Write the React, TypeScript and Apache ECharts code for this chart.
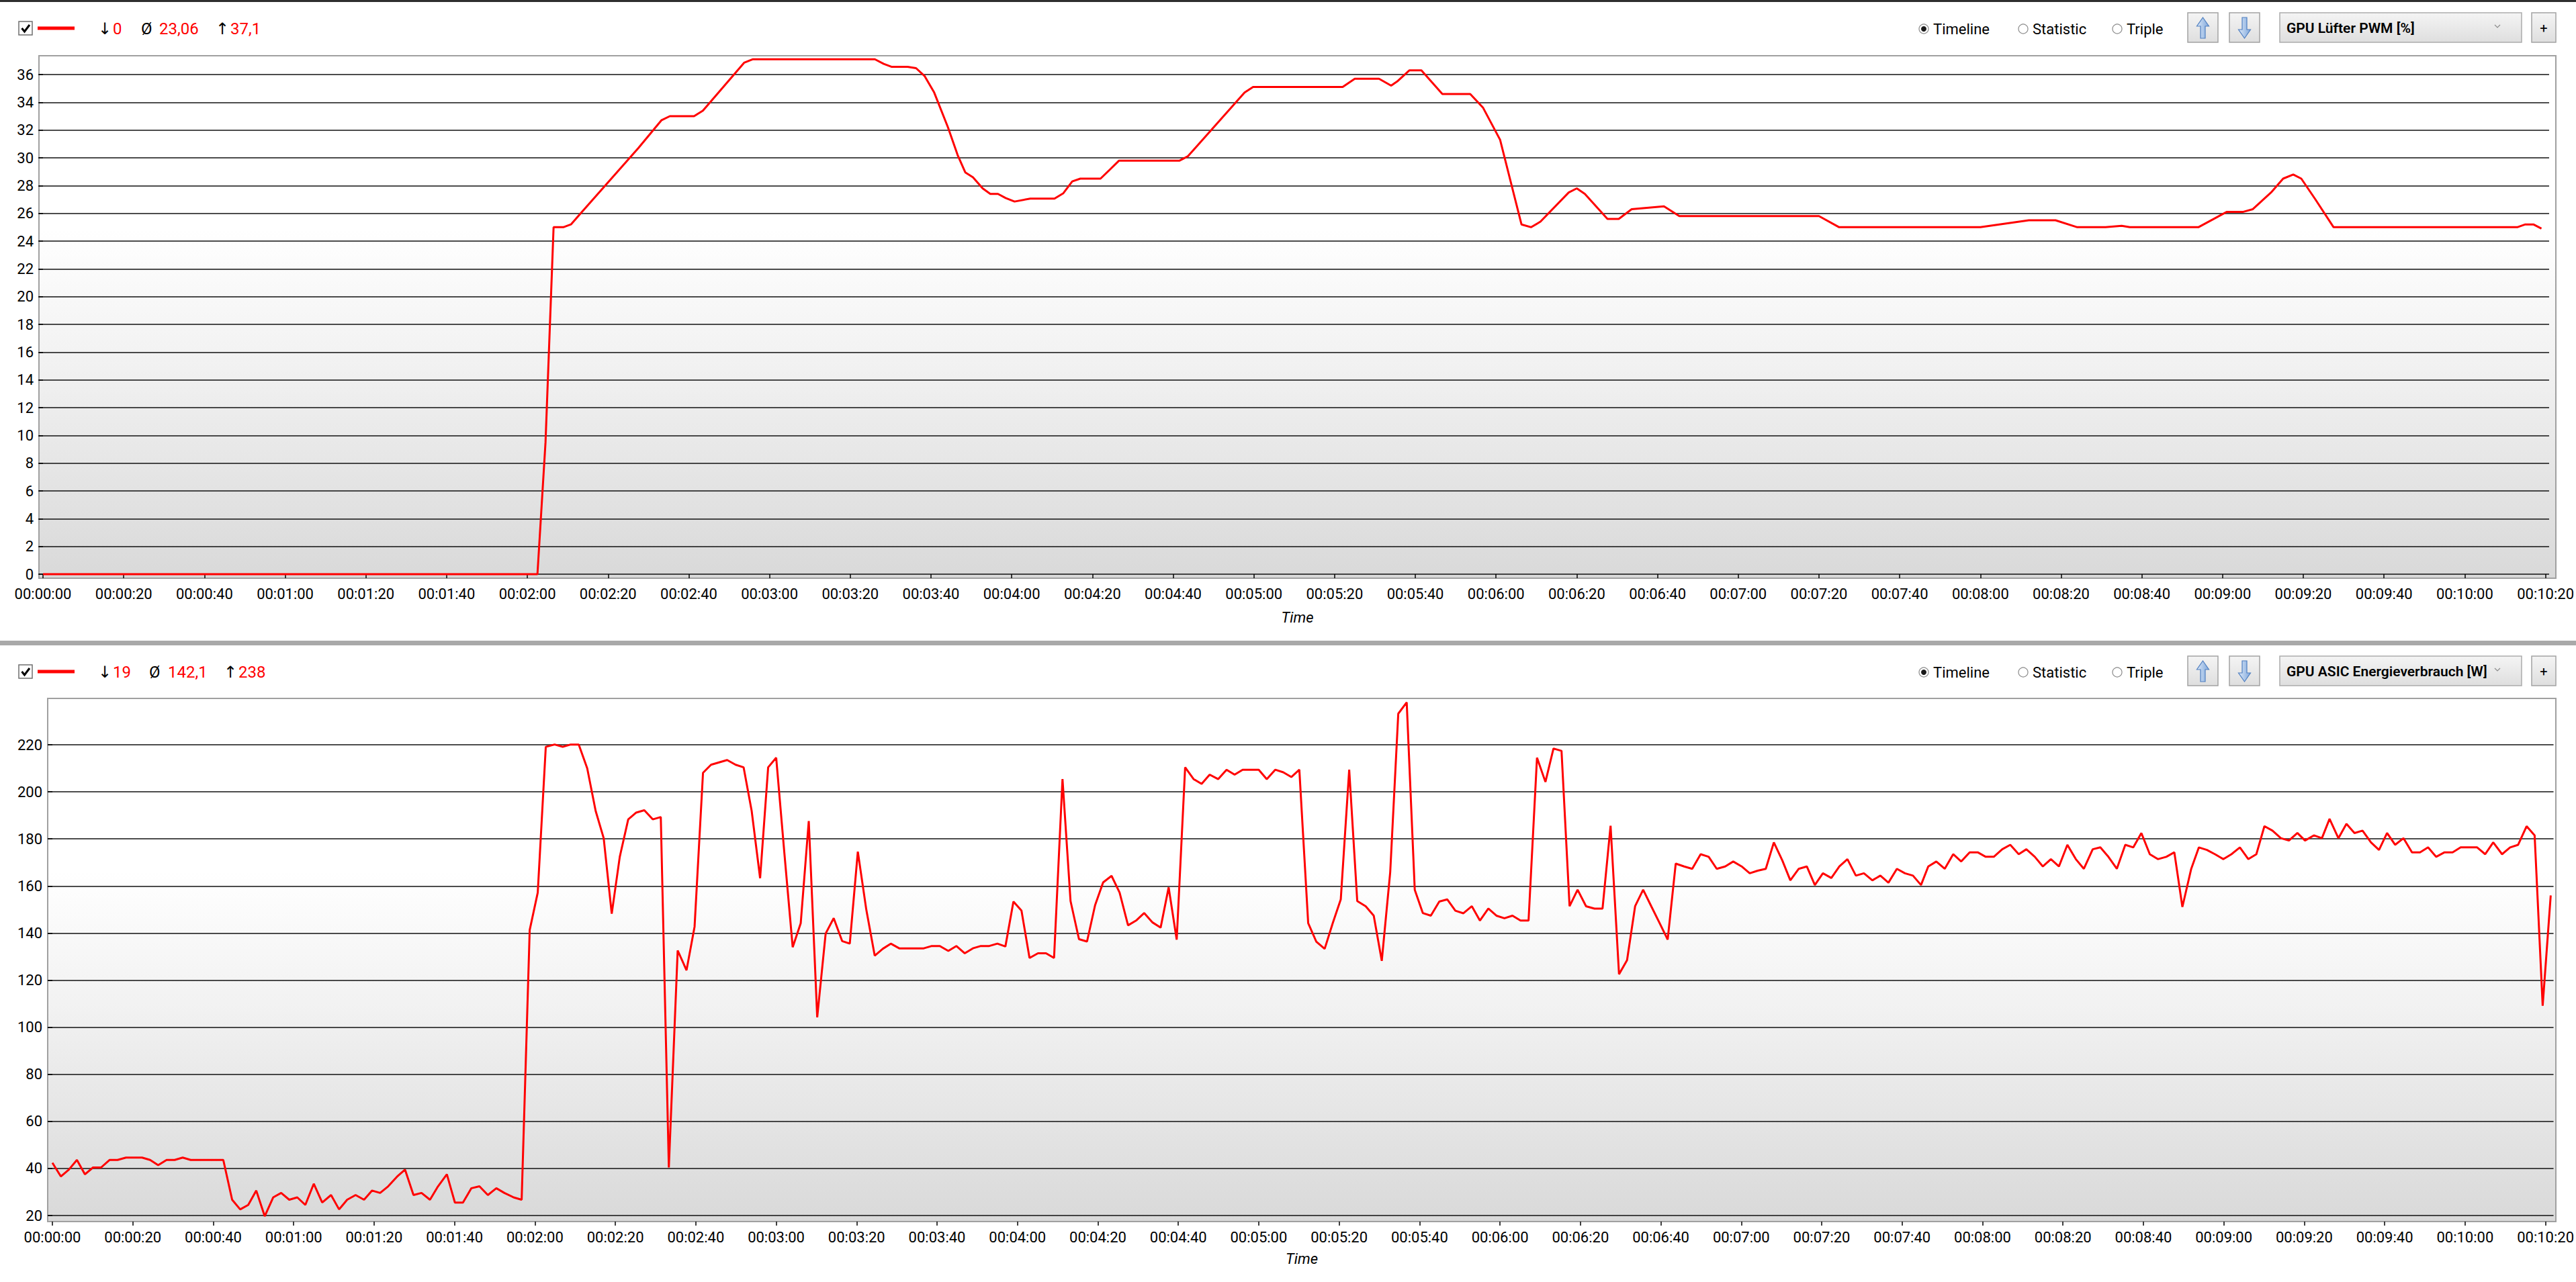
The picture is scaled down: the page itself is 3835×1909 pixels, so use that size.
import React, { useEffect, useRef } from 'react';
import * as echarts from 'echarts';

// ---------- data ----------
const TIME_TICKS = [0, 20, 40, 60, 80, 100, 120, 140, 160, 180, 200, 220, 240, 260, 280, 300, 320, 340, 360, 380, 400, 420, 440, 460, 480, 500, 520, 540, 560, 580, 600, 620];
const TIME_LABELS = ['00:00:00', '00:00:20', '00:00:40', '00:01:00', '00:01:20', '00:01:40', '00:02:00', '00:02:20', '00:02:40', '00:03:00', '00:03:20', '00:03:40', '00:04:00', '00:04:20', '00:04:40', '00:05:00', '00:05:20', '00:05:40', '00:06:00', '00:06:20', '00:06:40', '00:07:00', '00:07:20', '00:07:40', '00:08:00', '00:08:20', '00:08:40', '00:09:00', '00:09:20', '00:09:40', '00:10:00', '00:10:20'];

// GPU Lüfter PWM [%]  (time in s, value)
const fanPwm: [number, number][] = [
  [0, 0], [122.5, 0], [124.5, 9.5], [126.5, 25], [128.9, 25], [130.8, 25.2], [133.2, 26], [147.5, 30.7], [153.2, 32.7],
  [155.3, 33], [161.3, 33], [163.5, 33.4], [173.7, 36.85], [175.8, 37.1], [206.1, 37.1], [208.3, 36.77], [210.2, 36.56],
  [214.2, 36.56], [216.3, 36.46], [218.4, 35.9], [220.8, 34.7], [224.2, 32.2], [226.6, 30.2], [228.5, 28.95], [230.4, 28.6],
  [232.8, 27.8], [234.7, 27.4], [236.6, 27.4], [238.5, 27.1], [240.7, 26.85], [244.6, 27.06], [250.6, 27.06], [252.8, 27.45],
  [255, 28.3], [257, 28.5], [262, 28.5], [264.5, 29.2], [266.6, 29.8], [281.6, 29.8], [283.6, 30.1], [297.7, 34.7],
  [299.8, 35.1], [322, 35.1], [325, 35.7], [331, 35.7], [334, 35.2], [335.5, 35.5], [338.5, 36.3], [341.5, 36.3],
  [346.7, 34.6], [353.6, 34.6], [356.8, 33.6], [361, 31.3], [366.3, 25.2], [368.7, 25.0], [371, 25.4], [378, 27.5],
  [380, 27.8], [382, 27.4], [387.6, 25.6], [390.4, 25.6], [393.6, 26.3], [401.6, 26.5], [405.4, 25.8], [440, 25.8],
  [445, 25.0], [480, 25.0], [492, 25.5], [498.6, 25.5], [504, 25.0], [511, 25.0], [515, 25.1], [517, 25.0], [534, 25.0],
  [541, 26.1], [545, 26.1], [547.5, 26.3], [552, 27.5], [555, 28.5], [557.5, 28.8], [559.5, 28.5], [563, 27], [567.5, 25.0],
  [613, 25.0], [615, 25.2], [617, 25.2], [619, 24.9],
];

// GPU ASIC Energieverbrauch [W]  (time in s, value)
const asicPower: [number, number][] = [
  [0, 42.4], [2.1, 36.6], [4.1, 39.5], [6.1, 43.6], [8.1, 37.5], [10.1, 40.4], [12.1, 40.4], [14.2, 43.6], [16.2, 43.6],
  [18.3, 44.6], [20.3, 44.6], [22.3, 44.6], [24.3, 43.6], [26.3, 41.4], [28.4, 43.6], [30.4, 43.6], [32.4, 44.6],
  [34.4, 43.6], [36.5, 43.6], [38.5, 43.6], [40.5, 43.6], [42.5, 43.6], [44.7, 26.7], [46.7, 22.6], [48.7, 24.5],
  [50.7, 30.6], [52.8, 19.7], [54.9, 27.7], [56.9, 29.6], [58.9, 26.7], [60.9, 27.7], [62.9, 24.5], [65, 33.5],
  [67.1, 25.5], [69.3, 28.7], [71.3, 22.6], [73.3, 26.7], [75.4, 28.7], [77.5, 26.7], [79.5, 30.6], [81.5, 29.6],
  [83.5, 32.4], [85.7, 36.5], [87.7, 39.5], [89.8, 28.7], [91.8, 29.6], [93.9, 26.7], [95.9, 32.4], [98.1, 37.5],
  [100.1, 25.5], [102.1, 25.5], [104.2, 31.6], [106.2, 32.4], [108.3, 28.7], [110.4, 31.6], [112.4, 29.6], [114.7, 27.7],
  [116.7, 26.7], [118.7, 141.3], [120.7, 157.2], [122.7, 219.1], [124.9, 220.1], [126.9, 219.1], [128.9, 220.1],
  [130.9, 220.1], [133, 210], [135.1, 191.9], [137.1, 180.3], [139.1, 148.2], [141.1, 172.4], [143.2, 188.3],
  [145.2, 191.2], [147.2, 192.2], [149.3, 188.3], [151.3, 189.3], [153.3, 40.4], [155.5, 132.6], [157.7, 124.2],
  [159.7, 142.7], [161.8, 208.1], [163.8, 211.5], [165.8, 212.5], [167.8, 213.5], [169.9, 211.5], [171.9, 210.4],
  [173.9, 191.9], [176, 163.3], [178, 210.4], [180, 214.5], [182, 174.6], [184.1, 134.0], [186.1, 144.2], [188.1, 187.6],
  [190.2, 104.2], [192.3, 139.8], [194.3, 146.3], [196.4, 136.6], [198.3, 135.5], [200.3, 174.6], [202.4, 150.0],
  [204.5, 130.4], [206.5, 133.3], [208.5, 135.5], [210.6, 133.5], [212.6, 133.5], [214.6, 133.5], [216.7, 133.5],
  [218.7, 134.5], [220.7, 134.5], [222.8, 132.4], [224.8, 134.5], [226.9, 131.4], [228.9, 133.5], [230.9, 134.5],
  [233, 134.5], [235, 135.5], [237, 134.3], [239, 153.4], [241, 149.5], [243, 129.4], [245.1, 131.4], [247.1, 131.4],
  [249.1, 129.4], [251.2, 205.4], [253.2, 153.6], [255.3, 137.4], [257.3, 136.4], [259.3, 151.8], [261.3, 161.5],
  [263.4, 164.3], [265.4, 157.2], [267.5, 143.3], [269.5, 145.3], [271.5, 148.5], [273.6, 144.5], [275.6, 142.3],
  [277.6, 159.4], [279.6, 137.2], [281.7, 210.4], [283.8, 205.4], [285.8, 203.4], [287.8, 207.3], [289.9, 205.4],
  [292, 209.4], [294, 207.3], [296, 209.4], [298, 209.4], [300, 209.4], [302, 205.4], [304.1, 209.4], [306.1, 208.3],
  [308.1, 206.3], [310.1, 209.4], [312.3, 144.2], [314.3, 136.4], [316.4, 133.3], [318.4, 144.2], [320.4, 154.3],
  [322.5, 209.4], [324.5, 153.6], [326.6, 151.4], [328.6, 147.4], [330.6, 128.2], [332.7, 165.9], [334.7, 233.2],
  [336.8, 238.0], [338.8, 158.4], [340.8, 148.5], [342.8, 147.4], [344.9, 153.4], [346.9, 154.3], [348.9, 149.5],
  [350.9, 148.4], [353, 151.4], [355, 145.3], [357.1, 150.4], [359.1, 147.4], [361.1, 146.3], [363.1, 147.4],
  [365.1, 145.3], [367.1, 145.3], [369.2, 214.5], [371.3, 204.2], [373.3, 218.4], [375.3, 217.4], [377.3, 151.4],
  [379.3, 158.4], [381.4, 151.4], [383.5, 150.4], [385.5, 150.4], [387.5, 185.6], [389.6, 122.5], [391.6, 128.5],
  [393.6, 151.4], [395.6, 158.4], [397.7, 151.1], [399.7, 144.2], [401.7, 137.2], [403.7, 169.5], [405.8, 168.3],
  [407.8, 167.3], [409.9, 173.5], [411.9, 172.4], [413.9, 167.3], [416, 168.3], [418, 170.4], [420.1, 168.3],
  [422.1, 165.4], [424.1, 166.5], [426.1, 167.3], [428.1, 178.5], [430.2, 170.9], [432.2, 162.4], [434.3, 167.3],
  [436.3, 168.3], [438.3, 160.4], [440.3, 165.4], [442.4, 163.4], [444.4, 168.3], [446.4, 171.4], [448.5, 164.4],
  [450.5, 165.4], [452.6, 162.4], [454.6, 164.4], [456.6, 161.4], [458.7, 167.3], [460.7, 165.4], [462.7, 164.4],
  [464.7, 160.4], [466.5, 168.3], [468.5, 170.4], [470.6, 167.3], [472.7, 173.5], [474.7, 170.4], [476.8, 174.3],
  [478.8, 174.3], [480.8, 172.4], [482.8, 172.4], [484.9, 175.6], [486.9, 177.5], [489, 173.5], [490.9, 175.6],
  [493, 172.4], [495, 168.3], [497, 171.4], [499, 168.3], [501.1, 177.5], [503.2, 171.4], [505.2, 167.3], [507.4, 175.6],
  [509.3, 176.4], [511.3, 172.4], [513.4, 167.3], [515.5, 177.5], [517.5, 176.4], [519.5, 182.5], [521.6, 173.5],
  [523.6, 171.4], [525.7, 172.4], [527.7, 174.3], [529.7, 151.1], [531.9, 167.3], [533.8, 176.4], [535.8, 175.3],
  [537.8, 173.5], [539.9, 171.4], [541.9, 173.5], [544, 176.4], [546.1, 171.4], [548.1, 173.5], [550.1, 185.4],
  [552.1, 183.5], [554.2, 180.3], [556.2, 179.3], [558.3, 182.5], [560.2, 179.3], [562.4, 181.5], [564.4, 180.3],
  [566.3, 188.5], [568.5, 180.3], [570.5, 186.4], [572.5, 182.5], [574.5, 183.5], [576.6, 178.5], [578.6, 175.3],
  [580.6, 182.5], [582.6, 177.5], [584.7, 180.3], [586.8, 174.3], [588.8, 174.3], [590.8, 176.4], [592.8, 172.4],
  [594.9, 174.3], [596.9, 174.3], [598.9, 176.4], [600.9, 176.4], [603, 176.4], [605, 173.5], [607, 178.5], [609.2, 173.5],
  [611.2, 176.4], [613.2, 177.5], [615.3, 185.4], [617.3, 181.5], [619.3, 109.1], [621.3, 156.0],
];

const fanStats = { min: '0', avg: '23,06', max: '37,1' };
const powerStats = { min: '19', avg: '142,1', max: '238' };
const fanTitle = 'GPU Lüfter PWM [%]';
const powerTitle = 'GPU ASIC Energieverbrauch [W]';
const modes = ['Timeline', 'Statistic', 'Triple'];

// ---------- layout ----------
const W = 3835;
const H = 1909;
const FONT = "'Segoe UI', Roboto, 'Noto Sans', 'DejaVu Sans', sans-serif";

type Panel = {
  hc: number;
  box: { x1: number; y1: number; x2: number; y2: number };
  gridTop: number; gridBottomY: number;
  xMin: number; xMax: number;
  yMin: number; yMax: number; yInt: number;
  stats: { min: string; avg: string; max: string };
  statX: number[];
  title: string;
  timeY: number;
};

const panels: Panel[] = [
  {
    hc: 41, box: { x1: 58, y1: 83, x2: 3805, y2: 861 }, gridTop: 111, gridBottomY: 855,
    xMin: -1, xMax: 620.9, yMin: 0, yMax: 36, yInt: 2, stats: fanStats,
    statX: [146, 168, 210, 237, 321, 343], title: fanTitle, timeY: 919,
  },
  {
    hc: 999, box: { x1: 71, y1: 1040, x2: 3805, y2: 1819 }, gridTop: 1109, gridBottomY: 1810,
    xMin: -1.17, xMax: 622.0, yMin: 20, yMax: 220, yInt: 20, stats: powerStats,
    statX: [146, 168, 222, 250, 333, 355], title: powerTitle, timeY: 1874,
  },
];

function btnFill() {
  return {
    type: 'linear', x: 0, y: 0, x2: 0, y2: 1,
    colorStops: [{ offset: 0, color: '#f4f4f4' }, { offset: 1, color: '#dedede' }],
  };
}

function arrowFill() {
  return {
    type: 'linear', x: 0, y: 0, x2: 1, y2: 0,
    colorStops: [{ offset: 0, color: '#dbe8f8' }, { offset: 1, color: '#7fa7db' }],
  };
}

function headerGraphics(p: Panel): any[] {
  const hc = p.hc;
  const els: any[] = [];
  els.push({ type: 'rect', shape: { x: 28, y: hc - 9, width: 20, height: 20 }, style: { fill: '#fff', stroke: '#6f6f6f', lineWidth: 1.5 } });
  els.push({ type: 'polyline', shape: { points: [[32.5, hc + 1], [36.5, hc + 6], [44, hc - 4]] }, style: { stroke: '#000', lineWidth: 3, fill: null } });
  els.push({ type: 'line', shape: { x1: 56, y1: hc + 1, x2: 111, y2: hc + 1 }, style: { stroke: '#ff0000', lineWidth: 5 } });
  const t = (x: number, text: string, color: string) => ({
    type: 'text', x, y: hc + 2,
    style: { text, fill: color, fontSize: 24, fontFamily: FONT, verticalAlign: 'middle', align: 'left' },
  });
  els.push(t(p.statX[0], '↓', '#000'));
  els.push(t(p.statX[1], p.stats.min, '#ff0000'));
  els.push(t(p.statX[2], 'Ø', '#000'));
  els.push(t(p.statX[3], p.stats.avg, '#ff0000'));
  els.push(t(p.statX[4], '↑', '#000'));
  els.push(t(p.statX[5], p.stats.max, '#ff0000'));

  const radioX = [2864, 3012, 3152];
  modes.forEach((m, i) => {
    els.push({ type: 'circle', shape: { cx: radioX[i], cy: hc + 2, r: 7 }, style: { fill: '#fff', stroke: '#8a8a8a', lineWidth: 1.2 } });
    if (i === 0) els.push({ type: 'circle', shape: { cx: radioX[i], cy: hc + 2, r: 4 }, style: { fill: '#1a1a1a' } });
    els.push({
      type: 'text', x: radioX[i] + 14, y: hc + 2,
      style: { text: m, fill: '#000', fontSize: 22, fontFamily: FONT, verticalAlign: 'middle', align: 'left' },
    });
  });

  const by = hc - 22;
  const bh = 44;
  [3257, 3319].forEach((bx, i) => {
    els.push({ type: 'rect', shape: { x: bx, y: by, width: 45, height: bh }, style: { fill: btnFill(), stroke: '#a3a3a3', lineWidth: 1.5 } });
    const cx = bx + 22.5;
    const top = by + 7;
    const bot = by + bh - 6;
    let pts: number[][];
    if (i === 0) {
      pts = [[cx, top], [cx + 9, top + 13], [cx + 3.5, top + 13], [cx + 3.5, bot], [cx - 3.5, bot], [cx - 3.5, top + 13], [cx - 9, top + 13]];
    } else {
      pts = [[cx, bot], [cx + 9, bot - 13], [cx + 3.5, bot - 13], [cx + 3.5, top], [cx - 3.5, top], [cx - 3.5, bot - 13], [cx - 9, bot - 13]];
    }
    els.push({ type: 'polygon', shape: { points: pts }, style: { fill: arrowFill(), stroke: '#4f7fc0', lineWidth: 1.2 } });
  });

  els.push({ type: 'rect', shape: { x: 3394, y: by, width: 360, height: bh }, style: { fill: btnFill(), stroke: '#acacac', lineWidth: 1.5 } });
  els.push({
    type: 'text', x: 3404, y: hc + 1,
    style: { text: p.title, fill: '#000', fontSize: 21, fontWeight: 600, fontFamily: FONT, verticalAlign: 'middle', align: 'left' },
  });
  els.push({ type: 'polyline', shape: { points: [[3714, hc - 4], [3718, hc], [3722, hc - 4]] }, style: { stroke: '#8c8c8c', lineWidth: 1.2, fill: null } });
  els.push({ type: 'rect', shape: { x: 3769, y: by, width: 36, height: bh }, style: { fill: btnFill(), stroke: '#a3a3a3', lineWidth: 1.5 } });
  els.push({
    type: 'text', x: 3787, y: hc + 1,
    style: { text: '+', fill: '#000', fontSize: 20, fontFamily: FONT, verticalAlign: 'middle', align: 'center' },
  });
  return els;
}

function boxGraphics(p: Panel): any[] {
  const b = p.box;
  return [
    {
      type: 'rect', z: -10,
      shape: { x: b.x1, y: b.y1, width: b.x2 - b.x1, height: b.y2 - b.y1 },
      style: {
        fill: {
          type: 'linear', x: 0, y: 0, x2: 0, y2: 1,
          colorStops: [
            { offset: 0, color: '#ffffff' },
            { offset: 0.33, color: '#ffffff' },
            { offset: 0.6, color: '#f1f1f1' },
            { offset: 1, color: '#d9d9d9' },
          ],
        },
        stroke: '#a0a0a0', lineWidth: 2,
      },
    },
    {
      type: 'text', x: (b.x1 + b.x2) / 2, y: p.timeY,
      style: { text: 'Time', fill: '#000', fontSize: 22, fontStyle: 'italic', fontFamily: FONT, align: 'center', verticalAlign: 'middle' },
    },
  ];
}

function buildOption(): any {
  const grids: any[] = [];
  const xAxes: any[] = [];
  const yAxes: any[] = [];
  const series: any[] = [];
  const graphics: any[] = [
    { type: 'rect', shape: { x: 0, y: 0, width: W, height: 3 }, style: { fill: '#2e2e2e' } },
    { type: 'rect', shape: { x: 0, y: 954, width: W, height: 7 }, style: { fill: '#a9a9a9' } },
  ];
  const datas = [fanPwm, asicPower];
  panels.forEach((p, i) => {
    grids.push({
      left: p.box.x1, right: W - p.box.x2, top: p.gridTop, height: p.gridBottomY - p.gridTop,
      containLabel: false,
    });
    xAxes.push({
      type: 'value', gridIndex: i, min: p.xMin, max: p.xMax,
      offset: p.box.y2 - p.gridBottomY,
      axisLine: { show: false },
      axisTick: { show: true, length: 6, customValues: TIME_TICKS, lineStyle: { color: '#000', width: 1.5 } },
      axisLabel: {
        show: true, customValues: TIME_TICKS, margin: 12, color: '#000', fontSize: 22, fontFamily: FONT,
        formatter: (v: number) => {
          const k = TIME_TICKS.indexOf(Math.round(v));
          return k >= 0 ? TIME_LABELS[k] : '';
        },
      },
      splitLine: { show: false },
    });
    yAxes.push({
      type: 'value', gridIndex: i, min: p.yMin, max: p.yMax, interval: p.yInt,
      axisLine: { show: false },
      axisTick: { show: true, length: 7, lineStyle: { color: '#000', width: 1.5 } },
      axisLabel: { show: true, margin: 8, color: '#000', fontSize: 22, fontFamily: FONT },
      splitLine: { show: true, lineStyle: { color: '#111', width: 1.5 } },
    });
    series.push({
      type: 'line', xAxisIndex: i, yAxisIndex: i, data: datas[i],
      showSymbol: false, symbol: 'none', clip: false, z: 5,
      lineStyle: { color: '#ff0000', width: 3 },
      silent: true,
    });
    graphics.push(...boxGraphics(p));
    graphics.push(...headerGraphics(p));
  });

  return {
    animation: false,
    backgroundColor: '#ffffff',
    textStyle: { fontFamily: FONT },
    grid: grids,
    xAxis: xAxes,
    yAxis: yAxes,
    series,
    graphic: { elements: graphics },
  };
}

export default function App() {
  const ref = useRef<HTMLDivElement>(null);
  useEffect(() => {
    document.body.style.margin = '0';
    const chart = echarts.init(ref.current!, undefined, { renderer: 'svg', width: W, height: H });
    chart.setOption(buildOption());
    return () => chart.dispose();
  }, []);
  return <div ref={ref} style={{ position: 'absolute', left: 0, top: 0, width: W, height: H }} />;
}
